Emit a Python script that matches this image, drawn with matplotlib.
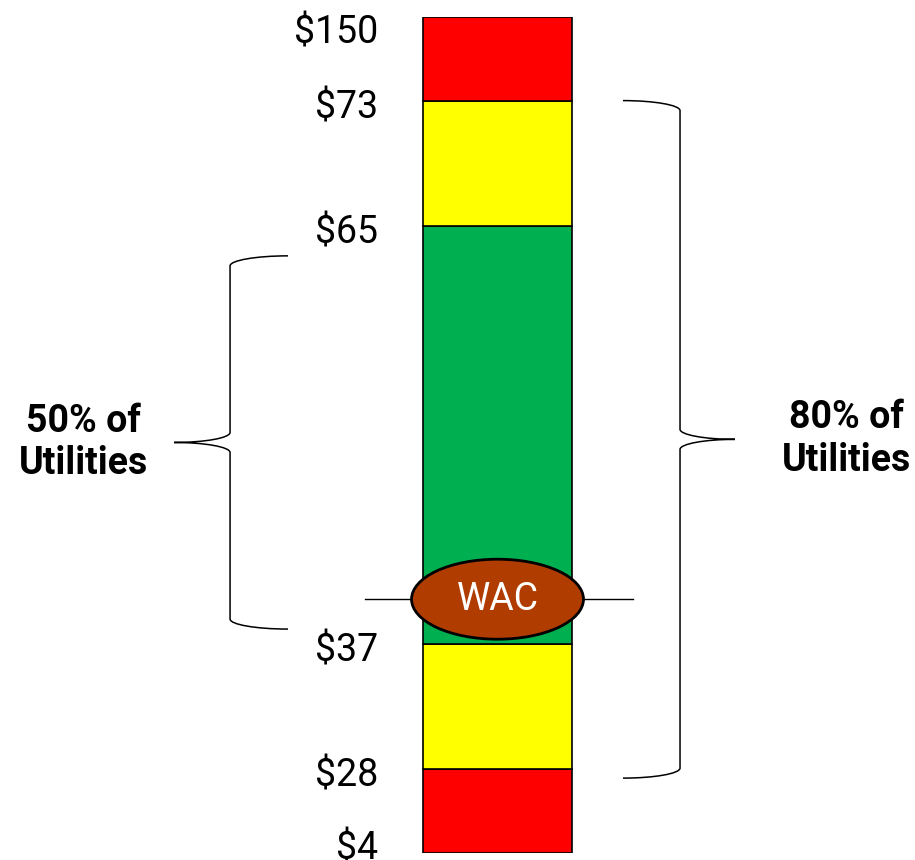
import numpy as np
import matplotlib.pyplot as plt
from matplotlib.patches import Ellipse, PathPatch
from matplotlib.path import Path

plt.rcParams['font.family'] = ['Roboto', 'DejaVu Sans']

# price bands (cost per month), bottom to top
band_edges = [4, 28, 37, 65, 73, 150]
band_colors = ['#FF0000', '#FFFF00', '#00B050', '#FFFF00', '#FF0000']
edge_labels = ['$4', '$28', '$37', '$65', '$73', '$150']

wac_value = 40
wac_label = 'WAC'

# bracketed ranges: (low, high, text, side)
brackets = [
    (38, 63, '50% of\nUtilities', 'left'),
    (25.5, 73, '80% of\nUtilities', 'right'),
]

# drawn height of each band on the thermometer (not to scale)
band_steps = [0, 1, 2.5, 7.5, 9, 10]


def forward(v):
    return np.interp(v, band_edges, band_steps)


def inverse(p):
    return np.interp(p, band_steps, band_edges)


fig = plt.figure(figsize=(9.15, 8.6), dpi=100)
ax = fig.add_axes([0, 7 / 860, 1, 836 / 860])
ax.set_yscale('function', functions=(forward, inverse))
ax.set_ylim(band_edges[0], band_edges[-1])
ax.set_xlim(-3.339, 2.802)
ax.axis('off')

heights = np.diff(band_edges)
ax.bar([0] * len(heights), heights, bottom=band_edges[:-1], width=1,
       color=band_colors, edgecolor='black', linewidth=1.2, zorder=2)

# edge value labels
for v, lab in zip(band_edges, edge_labels):
    if v == band_edges[-1]:
        dy, va = 2, 'top'
    elif v == band_edges[0]:
        dy, va = 3, 'center'
    else:
        dy, va = -5, 'center'
    ax.annotate(lab, (-0.80, v), xytext=(0, dy), textcoords='offset points',
                ha='right', va=va, fontsize=27, annotation_clip=False)

# transform for shapes given in scaled (drawn) units
scaled = ax.transLimits + ax.transAxes

# WAC marker
wy = forward(wac_value)
ax.plot([-0.89, 0.91], [wy, wy], color='black', lw=1, transform=scaled, zorder=3)
ax.add_patch(Ellipse((0, wy), 1.154, 0.957, facecolor='#B03C00',
                     edgecolor='black', lw=2, transform=scaled, zorder=4))
ax.text(0, wy, wac_label, transform=scaled, ha='center', va='center',
        color='white', fontsize=27, zorder=5)


def brace(x_end, x_mid, x_tip, lo, hi, r=0.12, k=0.55):
    top, bot = forward(hi), forward(lo)
    mid = (top + bot) / 2
    verts = [
        (x_end, top),
        (x_end - k * (x_end - x_mid), top), (x_mid, top - r + k * r), (x_mid, top - r),
        (x_mid, mid + r),
        (x_mid, mid + r - k * r), (x_tip + k * (x_mid - x_tip), mid), (x_tip, mid),
        (x_tip + k * (x_mid - x_tip), mid), (x_mid, mid - r + k * r), (x_mid, mid - r),
        (x_mid, bot + r),
        (x_mid, bot + r - k * r), (x_end - k * (x_end - x_mid), bot), (x_end, bot),
    ]
    codes = [Path.MOVETO] + [Path.CURVE4] * 3 + [Path.LINETO] + [Path.CURVE4] * 6 \
        + [Path.LINETO] + [Path.CURVE4] * 3
    ax.add_patch(PathPatch(Path(verts, codes), fill=False, edgecolor='black',
                           lw=1.1, transform=scaled, clip_on=False))
    return mid


for lo, hi, text, side in brackets:
    if side == 'left':
        mid = brace(-1.406, -1.795, -2.171, lo, hi)
        tx = -2.78
    else:
        mid = brace(0.842, 1.225, 1.594, lo, hi)
        tx = 2.345
    ax.text(tx, mid, text, transform=scaled, ha='center', va='center',
            fontsize=27, fontweight='bold', linespacing=1.2)

fig.savefig('out.png', dpi=100)
